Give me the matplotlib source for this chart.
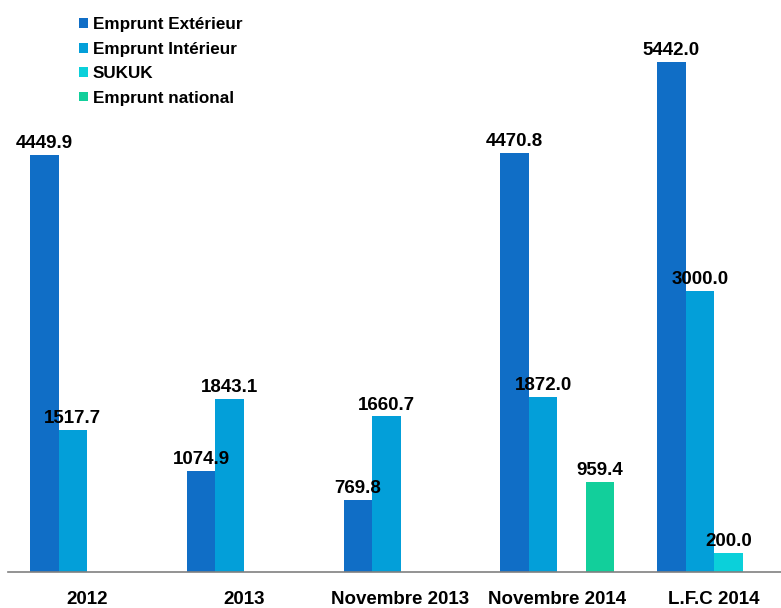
import numpy as np
import matplotlib.pyplot as plt

plt.rcParams['font.family'] = ['Liberation Sans', 'DejaVu Sans']

# Données
categories = ["2012", "2013", "Novembre 2013", "Novembre 2014", "L.F.C 2014"]
series = ["Emprunt Extérieur", "Emprunt Intérieur", "SUKUK", "Emprunt national"]
exterieur = [4449.9, 1074.9, 769.8, 4470.8, 5442.0]
interieur = [1517.7, 1843.1, 1660.7, 1872.0, 3000.0]
sukuk = [None, None, None, None, 200.0]
national = [None, None, None, 959.4, None]
colors = ["#106EC6", "#039FD9", "#0BD0DA", "#12CF9B"]

fig = plt.figure(figsize=(7.81, 6.08), dpi=100)
ax = fig.add_axes([8 / 781, (608 - 572) / 608, 773 / 781, 572 / 608])

step = 5.5  # espacement entre groupes (en largeurs de barre)
all_series = [exterieur, interieur, sukuk, national]
handles = []
for j, vals in enumerate(all_series):
    xs = [i * step + j + 0.5 for i, v in enumerate(vals) if v is not None]
    ys = [v for v in vals if v is not None]
    h = ax.bar(xs, ys, width=1.0, color=colors[j], label=series[j], linewidth=0)
    handles.append(h)
    for x, y in zip(xs, ys):
        ax.text(x, y + 30, f"{y:.1f}", ha="center", va="bottom",
                fontsize=13.5, fontweight="bold")

ax.set_xlim(-22 / 28.5, 751 / 28.5)
ax.set_ylim(0, 6104)
for s in ["top", "right", "left"]:
    ax.spines[s].set_visible(False)
ax.spines["bottom"].set_color("#808080")
ax.spines["bottom"].set_linewidth(1.2)
ax.set_yticks([])
ax.set_xticks([i * step + 2 for i in range(len(categories))])
ax.set_xticklabels(categories, fontsize=13.5, fontweight="bold")
ax.tick_params(axis="x", length=0, pad=14)

leg = ax.legend(handles=handles, loc="upper left", bbox_to_anchor=(56 / 773, 1.0 - 2 / 572),
                frameon=False, prop={"size": 12.3, "weight": "bold"},
                handlelength=0.5, handleheight=0.5, handletextpad=0.3, labelspacing=0.55)

fig.savefig("out.png", dpi=100)
